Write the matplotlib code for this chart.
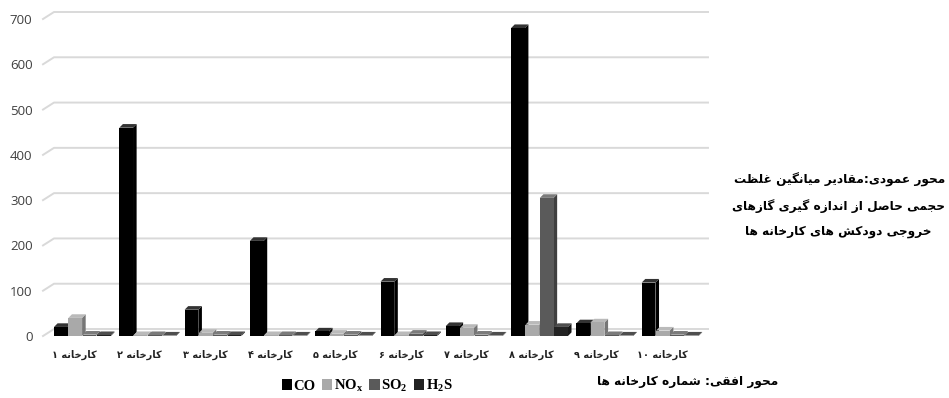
import re
import numpy as np
import matplotlib
matplotlib.use("Agg")
import matplotlib.pyplot as plt
from matplotlib.lines import Line2D
from matplotlib.patches import Patch
from matplotlib.transforms import IdentityTransform

# داده ها
factories = ["کارخانه ۱", "کارخانه ۲", "کارخانه ۳", "کارخانه ۴", "کارخانه ۵",
             "کارخانه ۶", "کارخانه ۷", "کارخانه ۸", "کارخانه ۹", "کارخانه ۱۰"]
co = [20, 460, 58, 210, 10, 120, 22, 680, 28, 118]
nox = [40, 2, 7, 2, 5, 2, 18, 25, 30, 12]
so2 = [3, 2, 3, 2, 3, 5, 3, 305, 2, 3]
h2s = [2, 1, 2, 1, 1, 2, 1, 20, 1, 1]
series_names = ["CO", r"NO$_\mathregular{x}$", r"SO$_\mathregular{2}$", r"H$_\mathregular{2}$S"]
colors = ["#000000", "#a9a9a9", "#5a5a5a", "#222222"]
yticks = [0, 100, 200, 300, 400, 500, 600, 700]

y_title = ["محور عمودی:مقادیر میانگین غلظت",
           "حجمی حاصل از اندازه گیری گازهای",
           "خروجی دودکش های کارخانه ها"]
x_title = "محور افقی: شماره کارخانه ها"

# شکل دادن حروف فارسی (matplotlib خودش این کار را نمی کند)
DUAL = {'ب': 0xFE8F, 'ت': 0xFE95, 'ث': 0xFE99, 'ج': 0xFE9D, 'ح': 0xFEA1, 'خ': 0xFEA5,
        'س': 0xFEB1, 'ش': 0xFEB5, 'ص': 0xFEB9, 'ض': 0xFEBD, 'ط': 0xFEC1, 'ظ': 0xFEC5,
        'ع': 0xFEC9, 'غ': 0xFECD, 'ف': 0xFED1, 'ق': 0xFED5, 'ل': 0xFEDD, 'م': 0xFEE1,
        'ن': 0xFEE5, 'ه': 0xFEE9, 'ی': 0xFBFC, 'ي': 0xFEF1, 'ک': 0xFB8E, 'گ': 0xFB92,
        'پ': 0xFB56, 'چ': 0xFB7A}
RIGHT = {'ا': 0xFE8D, 'آ': 0xFE81, 'د': 0xFEA9, 'ذ': 0xFEAB, 'ر': 0xFEAD, 'ز': 0xFEAF,
         'ژ': 0xFB8A, 'و': 0xFEED}


def fa(s):
    out = []
    for i, c in enumerate(s):
        prev = s[i - 1] if i > 0 else ''
        nxt = s[i + 1] if i < len(s) - 1 else ''
        jp = prev in DUAL
        if c in DUAL:
            jn = nxt in DUAL or nxt in RIGHT
            k = 3 if (jp and jn) else 1 if jp else 2 if jn else 0
            out.append(chr(DUAL[c] + k))
        elif c in RIGHT:
            out.append(chr(RIGHT[c] + (1 if jp else 0)))
        else:
            out.append(c)
    vis = ''.join(out)[::-1]
    return re.sub(r'[0-9۰-۹]+', lambda m: m.group(0)[::-1], vis)


def shade(c, f):
    rgb = np.array(matplotlib.colors.to_rgb(c))
    if f < 1:
        return tuple(rgb * f)
    return tuple(rgb + (1 - rgb) * (f - 1))


fig = plt.figure(figsize=(9.49, 3.98), dpi=100)
ax = fig.add_axes([45 / 949, 62 / 398, 653 / 949, 317 / 398])
ax.patch.set_visible(False)
ax.set_xlim(-0.5, 9.5)
ax.set_ylim(0, 700)
for s in ax.spines.values():
    s.set_visible(False)
ax.set_xticks([])
ax.set_yticks(yticks)
ax.set_yticklabels([str(v) for v in yticks], fontsize=9.5, color="#404040", family="Open Sans")
ax.tick_params(axis="y", length=0, pad=9)

# خطوط شبکه با دیواره پشتی مایل
fig.canvas.draw()
for v in yticks:
    x0, y0 = ax.transData.transform((-0.5, v))
    x1, _ = ax.transData.transform((9.5, v))
    ln = Line2D([x0 - 2, x0 + 9, x1 + 10], [y0, y0 + 7, y0 + 7], color="#d9d9d9", lw=1.4,
                transform=IdentityTransform(), zorder=-1)
    fig.add_artist(ln)

# ستون های سه بعدی
data = [co, nox, so2, h2s]
w = 0.21
step = 0.22
dx = 0.055
dy = 8
x = np.arange(len(factories))
z = 2
for i in x:
    for k, vals in enumerate(data):
        left = i - 0.362 + k * step
        h = vals[i]
        c = colors[k]
        ax.fill([left + w, left + w + dx, left + w + dx, left + w],
                [0, dy, h + dy, h], color=shade(c, 0.7), lw=0, zorder=z, clip_on=False)
        ax.fill([left, left + dx, left + w + dx, left + w],
                [h, h + dy, h + dy, h], color=shade(c, 1.2), lw=0, zorder=z, clip_on=False)
        ax.bar(left, h, width=w, align="edge", color=c, lw=0, zorder=z + 0.5)
        z += 1

for i, lab in enumerate(factories):
    ax.text(i - 0.05, -42, fa(lab), ha="center", va="center", fontsize=7,
            fontweight="bold", color="#222222", family="DejaVu Sans")

handles = [Patch(facecolor=c, edgecolor="none") for c in colors]
fig.legend(handles, series_names, loc="center", bbox_to_anchor=(367 / 949, 1 - 386 / 398),
           ncol=4, frameon=False, handlelength=0.7, handleheight=0.7, handletextpad=0.1,
           columnspacing=0.45, prop={"family": "Liberation Serif", "weight": "bold", "size": 10.5})

fs = 8.7
fig.text(945 / 949, 1 - 180 / 398, fa(y_title[0]), ha="right", va="center",
         fontsize=fs, fontweight="bold", family="DejaVu Sans")
fig.text(945 / 949, 1 - 206 / 398, fa(y_title[1]), ha="right", va="center",
         fontsize=fs, fontweight="bold", family="DejaVu Sans")
fig.text(745 / 949, 1 - 232 / 398, fa(y_title[2]), ha="left", va="center",
         fontsize=fs, fontweight="bold", family="DejaVu Sans")
fig.text(778 / 949, 1 - 382 / 398, fa(x_title), ha="right", va="center",
         fontsize=fs, fontweight="bold", family="DejaVu Sans")

fig.savefig("out.png", dpi=100)
